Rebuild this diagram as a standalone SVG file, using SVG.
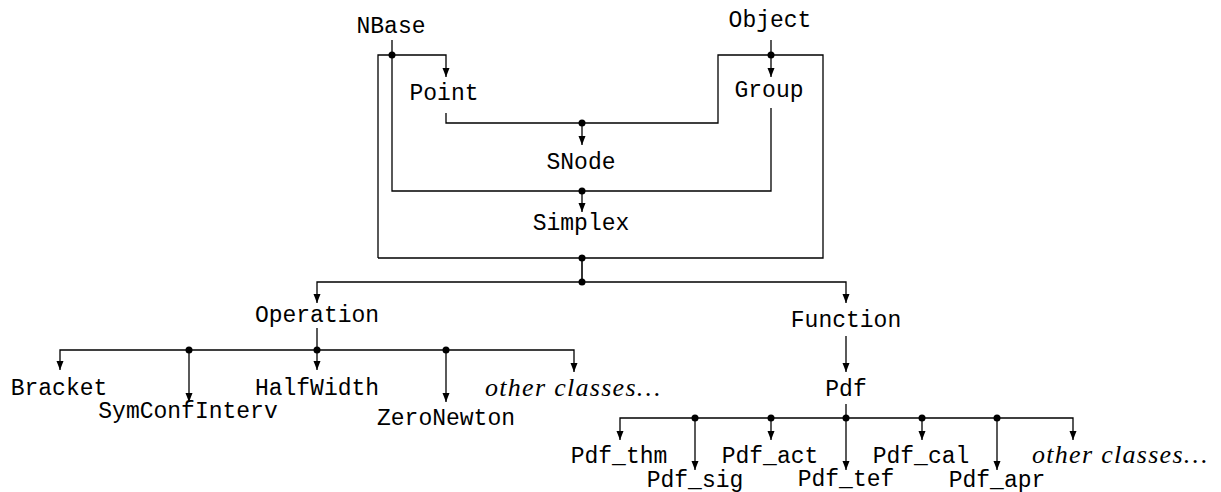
<svg xmlns="http://www.w3.org/2000/svg" width="1221" height="492" viewBox="0 0 1221 492">
<style>
.t{font-family:"Liberation Mono","DejaVu Sans Mono",monospace;font-size:23px;fill:#000;text-anchor:middle}
.i{font-family:"Liberation Serif","DejaVu Serif",serif;font-style:italic;font-size:26px;fill:#000}
.c{fill:none;stroke:#000;stroke-width:1.3}
.a{fill:none;stroke:#000;stroke-width:1.3;marker-end:url(#ah)}
.d{fill:#000}
</style>
<defs>
<marker id="ah" markerUnits="userSpaceOnUse" markerWidth="10" markerHeight="8" refX="9" refY="3.5" orient="auto">
<path d="M0,0 L9,3.5 L0,7 z" fill="#000"/>
</marker>
</defs>
<rect width="1221" height="492" fill="#fff"/>
<g id="connectors">
<path class="a" d="M392,40 V55 H446 V77"/>
<path class="c" d="M392,55 V191 H771 V108"/>
<path class="c" d="M378,258 V55 H392"/>
<path class="c" d="M446,113 V123 H718 V55 H823 V258 H378"/>
<path class="a" d="M582,123 V145"/>
<path class="a" d="M771,40 V77"/>
<path class="a" d="M582,191 V212"/>
<path class="c" d="M582,258 V282" style="stroke-width:1.6"/>
<path class="a" d="M582,282 H317 V303"/>
<path class="a" d="M582,282 H846 V303"/>
<path class="c" d="M317,328 V350"/>
<path class="a" d="M317,350 H60 V370"/>
<path class="a" d="M317,350 H574 V372"/>
<path class="a" d="M189,350 V402"/>
<path class="a" d="M317,350 V370"/>
<path class="a" d="M446,350 V402"/>
<path class="a" d="M846,336 V372"/>
<path class="c" d="M846,404 V418"/>
<path class="a" d="M846,418 H620 V440"/>
<path class="a" d="M846,418 H1073 V440"/>
<path class="a" d="M695,418 V470"/>
<path class="a" d="M771,418 V440"/>
<path class="a" d="M846,418 V470"/>
<path class="a" d="M922,418 V440"/>
<path class="a" d="M997,418 V470"/>
<circle class="d" cx="392" cy="55" r="3.5"/>
<circle class="d" cx="771" cy="55" r="3.5"/>
<circle class="d" cx="582" cy="123" r="3.5"/>
<circle class="d" cx="582" cy="191" r="3.5"/>
<circle class="d" cx="582" cy="258" r="3.5"/>
<circle class="d" cx="582" cy="282" r="3.5"/>
<circle class="d" cx="189" cy="350" r="3.5"/>
<circle class="d" cx="317" cy="350" r="3.5"/>
<circle class="d" cx="446" cy="350" r="3.5"/>
<circle class="d" cx="695" cy="418" r="3.5"/>
<circle class="d" cx="771" cy="418" r="3.5"/>
<circle class="d" cx="846" cy="418" r="3.5"/>
<circle class="d" cx="922" cy="418" r="3.5"/>
<circle class="d" cx="997" cy="418" r="3.5"/>
</g>
<g id="NBase"><text class="t" x="391" y="33">NBase</text></g>
<g id="Object"><text class="t" x="770" y="27">Object</text></g>
<g id="Point"><text class="t" x="444" y="100">Point</text></g>
<g id="Group"><text class="t" x="769" y="97">Group</text></g>
<g id="SNode"><text class="t" x="581" y="169">SNode</text></g>
<g id="Simplex"><text class="t" x="581" y="230">Simplex</text></g>
<g id="Operation"><text class="t" x="317" y="322">Operation</text></g>
<g id="Function"><text class="t" x="846" y="327">Function</text></g>
<g id="Bracket"><text class="t" x="59" y="395">Bracket</text></g>
<g id="SymConfInterv"><text class="t" x="188" y="418">SymConfInterv</text></g>
<g id="HalfWidth"><text class="t" x="317" y="395">HalfWidth</text></g>
<g id="ZeroNewton"><text class="t" x="446" y="425">ZeroNewton</text></g>
<g id="OtherOp"><text class="i" x="485" y="396" textLength="175" lengthAdjust="spacing">other classes…</text></g>
<g id="Pdf"><text class="t" x="846" y="396">Pdf</text></g>
<g id="Pdf_thm"><text class="t" x="619" y="463">Pdf_thm</text></g>
<g id="Pdf_sig"><text class="t" x="695" y="487">Pdf_sig</text></g>
<g id="Pdf_act"><text class="t" x="770" y="463">Pdf_act</text></g>
<g id="Pdf_tef"><text class="t" x="846" y="486">Pdf_tef</text></g>
<g id="Pdf_cal"><text class="t" x="921" y="463">Pdf_cal</text></g>
<g id="Pdf_apr"><text class="t" x="997" y="487">Pdf_apr</text></g>
<g id="OtherPdf"><text class="i" x="1032" y="463" textLength="175" lengthAdjust="spacing">other classes…</text></g>
</svg>
